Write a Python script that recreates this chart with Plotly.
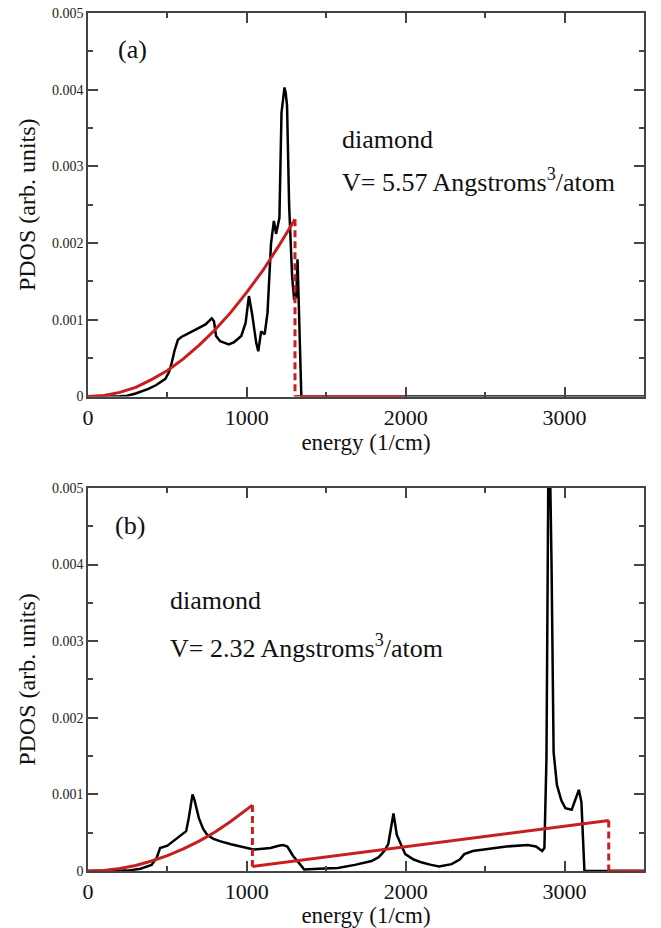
import plotly.graph_objects as go

# ---------------- data ----------------
# panel (a): PDOS at V = 5.57 A^3/atom
energy_a = [0, 100, 200, 247, 300, 380, 430, 487, 510, 527, 545, 566, 590, 620, 660, 699, 740, 779,
            793, 806, 832, 860, 886, 920, 965, 992, 1013, 1032, 1059, 1072, 1090, 1112, 1130, 1152,
            1170, 1184, 1205, 1218, 1230, 1237, 1245, 1253, 1266, 1285, 1298, 1311, 1319, 1327,
            1338, 1343, 2000, 3000, 3500]
pdos_a = [0, 0, 0.000005, 0.00001, 0.00004, 0.0001, 0.00015, 0.00023, 0.00032, 0.00044, 0.0006,
          0.00074, 0.00078, 0.00081, 0.00085, 0.00089, 0.00094, 0.00102, 0.00098, 0.00079, 0.00072,
          0.0007, 0.00068, 0.00071, 0.00079, 0.00096, 0.00131, 0.00109, 0.0007, 0.00059, 0.00085,
          0.00081, 0.00109, 0.00199, 0.00229, 0.00212, 0.00233, 0.0037, 0.0039, 0.00403, 0.00395,
          0.00379, 0.0025, 0.00156, 0.00126, 0.0013, 0.00179, 0.00121, 0.00057, 0, 0, 0, 0]

# Debye-model fit for panel (a)
debye_a_x = [0, 100, 200, 300, 400, 500, 600, 700, 800, 900, 1000, 1100, 1200, 1303]
debye_a_y = [0, 0.000014, 0.000054, 0.00012, 0.00022, 0.00034, 0.00049, 0.00067, 0.00087,
             0.0011, 0.00136, 0.00164, 0.00196, 0.00231]
cutoff_a_x = [1303, 1303]
cutoff_a_y = [0.00231, 0]
tail_a_x = [1303, 1980]
tail_a_y = [0, 0]

# panel (b): PDOS at V = 2.32 A^3/atom
energy_b = [0, 150, 247, 330, 400, 432, 454, 500, 538, 580, 618, 635, 650, 658, 670, 698, 725, 751,
            790, 830, 900, 989, 1042, 1100, 1149, 1200, 1228, 1255, 1290, 1334, 1361, 1450, 1573,
            1680, 1785, 1830, 1865, 1890, 1905, 1923, 1944, 1997, 2050, 2103, 2160, 2210, 2289,
            2340, 2369, 2422, 2528, 2634, 2767, 2820, 2859, 2873, 2886, 2894, 2899, 2906, 2912,
            2918, 2931, 2952, 2980, 3005, 3045, 3072, 3090, 3106, 3117, 3125, 3300, 3500]
pdos_b = [0, 0, 0.000005, 0.00003, 0.00008, 0.00017, 0.0003, 0.00033, 0.00039, 0.00045, 0.00052,
          0.0007, 0.00092, 0.001, 0.00093, 0.00069, 0.00055, 0.00047, 0.00042, 0.00039, 0.00035,
          0.0003, 0.00028, 0.00029, 0.0003, 0.00033, 0.00034, 0.00032, 0.0002, 0.00009, 0.00002,
          0.00003, 0.00004, 0.00008, 0.00013, 0.00018, 0.00026, 0.00035, 0.00052, 0.00075,
          0.00047, 0.00022, 0.00015, 0.00011, 0.00008, 0.00006, 0.00009, 0.00015, 0.00022,
          0.00026, 0.00029, 0.00032, 0.00034, 0.00032, 0.00026, 0.0003, 0.00147, 0.004, 0.0056,
          0.0056, 0.0049, 0.004, 0.00155, 0.00112, 0.00092, 0.00082, 0.0008, 0.00095, 0.00106,
          0.0009, 0.00026, 0, 0, 0]

# Debye-model fits for panel (b): acoustic part and optic part
debye_b1_x = [0, 100, 200, 300, 400, 500, 600, 700, 800, 900, 1035]
debye_b1_y = [0, 0.000008, 0.000032, 0.000072, 0.00013, 0.0002, 0.00029, 0.00039, 0.00051,
              0.00065, 0.00086]
cutoff_b1_x = [1035, 1035]
cutoff_b1_y = [0.00086, 0.00006]
debye_b2_x = [1035, 3278]
debye_b2_y = [0.00006, 0.00066]
cutoff_b2_x = [3278, 3278]
cutoff_b2_y = [0.00066, 0]
tail_b_x = [3278, 3500]
tail_b_y = [0, 0]

x_ticks = [0, 1000, 2000, 3000]
x_ticklabels = ["0", "1000", "2000", "3000"]
y_ticks = [0, 0.001, 0.002, 0.003, 0.004, 0.005]
y_ticklabels = ["0", "0.001", "0.002", "0.003", "0.004", "0.005"]

# ---------------- styling ----------------
BLACK = "#000000"
RED = "#c81e1e"
FONT = "Liberation Serif, Times New Roman, DejaVu Serif, serif"
AXCOL = "#444444"

fig = go.Figure()


def add_line(x, y, color, width, xa, ya, dash="solid"):
    fig.add_trace(go.Scatter(x=x, y=y, mode="lines", xaxis=xa, yaxis=ya,
                             line=dict(color=color, width=width, dash=dash),
                             showlegend=False, hoverinfo="skip"))


# panel (a) -> x/y ; panel (b) -> x2/y2
add_line(energy_a, pdos_a, BLACK, 2.5, "x", "y")
add_line(debye_a_x, debye_a_y, RED, 3, "x", "y")
add_line(cutoff_a_x, cutoff_a_y, RED, 3, "x", "y", dash="7px,4px")
add_line(tail_a_x, tail_a_y, RED, 3, "x", "y")

add_line(energy_b, pdos_b, BLACK, 2.5, "x2", "y2")
add_line(debye_b1_x, debye_b1_y, RED, 3, "x2", "y2")
add_line(cutoff_b1_x, cutoff_b1_y, RED, 3, "x2", "y2", dash="7px,4px")
add_line(debye_b2_x, debye_b2_y, RED, 3, "x2", "y2")
add_line(cutoff_b2_x, cutoff_b2_y, RED, 3, "x2", "y2", dash="7px,4px")
add_line(tail_b_x, tail_b_y, RED, 3, "x2", "y2")


def xaxis_def(anchor):
    return dict(
        range=[0, 3500], anchor=anchor, tickvals=x_ticks, ticktext=x_ticklabels,
        ticks="inside", ticklen=10, tickwidth=1.5, tickcolor=AXCOL,
        minor=dict(ticks="inside", ticklen=5, tickwidth=1.5, tickcolor=AXCOL, dtick=500, tick0=0),
        showline=True, linecolor=AXCOL, linewidth=1.5, mirror="ticks",
        showgrid=False, zeroline=False,
        tickfont=dict(family=FONT, size=22, color="#111111"),
        title=dict(text="energy (1/cm)", font=dict(family=FONT, size=23, color="#111111"),
                   standoff=2),
    )


def yaxis_def(anchor, domain):
    return dict(
        range=[0, 0.005], anchor=anchor, domain=domain, tickvals=y_ticks, ticktext=y_ticklabels,
        ticks="inside", ticklen=10, tickwidth=1.5, tickcolor=AXCOL,
        minor=dict(ticks="inside", ticklen=5, tickwidth=1.5, tickcolor=AXCOL, dtick=0.0005, tick0=0),
        showline=True, linecolor=AXCOL, linewidth=1.5, mirror="ticks",
        showgrid=False, zeroline=False,
        tickfont=dict(family=FONT, size=14, color="#222222"),
        title=dict(text="PDOS (arb. units)", font=dict(family=FONT, size=24, color="#111111"),
                   standoff=10),
    )


fig.update_layout(
    width=661, height=928,
    margin=dict(l=88, r=17, t=6, b=55),
    paper_bgcolor="white", plot_bgcolor="white",
    font=dict(family=FONT),
    xaxis=xaxis_def("y"),
    yaxis=yaxis_def("x", [0.553, 1.0]),
    xaxis2=xaxis_def("y2"),
    yaxis2=yaxis_def("x2", [0.0, 0.4464]),
)

ann_font = dict(family=FONT, size=26, color="#111111")
annotations = [
    ("(a)", "x domain", "y domain", 0.05, 0.9045),
    ("diamond", "x domain", "y domain", 0.453, 0.67),
    ("V= 5.57 Angstroms<sup>3</sup>/atom", "x domain", "y domain", 0.453, 0.564),
    ("(b)", "x2 domain", "y2 domain", 0.045, 0.9018),
    ("diamond", "x2 domain", "y2 domain", 0.144, 0.705),
    ("V= 2.32 Angstroms<sup>3</sup>/atom", "x2 domain", "y2 domain", 0.144, 0.585),
]
for text, xr, yr, ax, ay in annotations:
    fig.add_annotation(text=text, xref=xr, yref=yr, x=ax, y=ay, xanchor="left",
                       yanchor="middle", showarrow=False, font=ann_font)

fig.write_html("out.html")
